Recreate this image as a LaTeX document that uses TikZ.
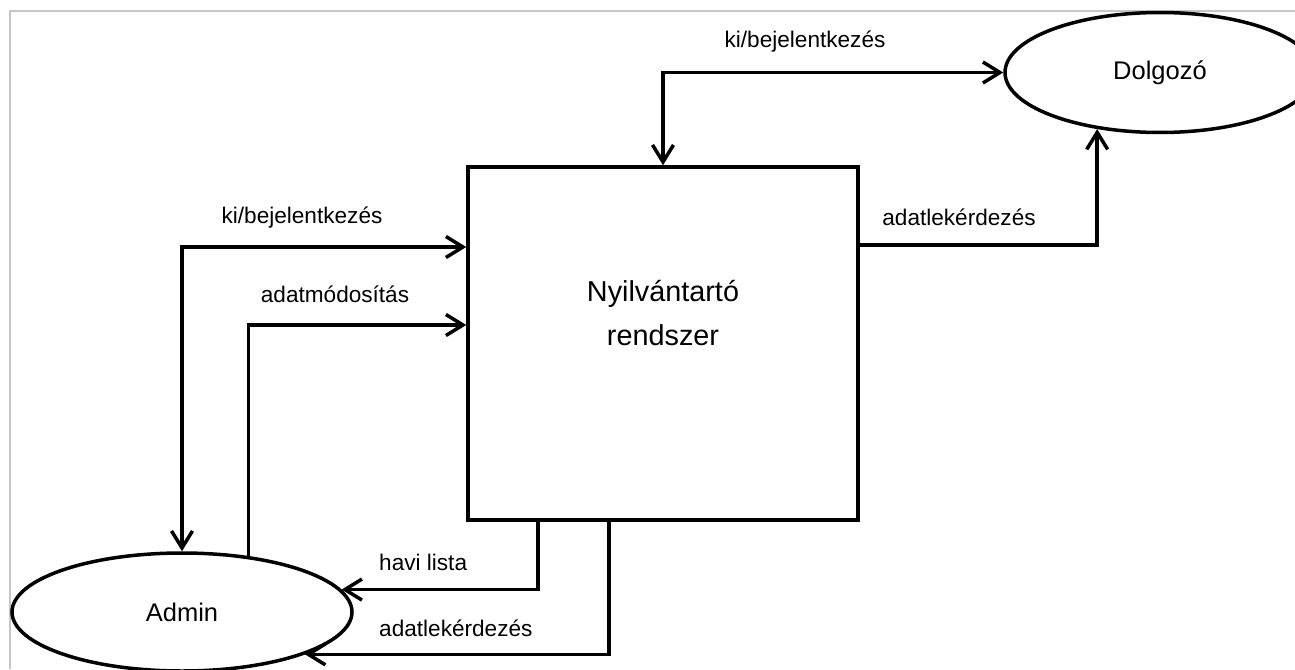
\documentclass[tikz,border=0pt]{standalone}
\usepackage{fontspec}
\setmainfont{Liberation Sans}
\usetikzlibrary{arrows.meta,shapes.geometric}
\tikzset{
  process/.style={draw, line width=3.5pt, minimum width=390pt, minimum height=353pt, inner sep=0pt},
  entity/.style={draw, ellipse, line width=3.5pt, inner sep=0pt, font=\fontsize{25.5}{30}\selectfont},
  flow/.style={line width=3.5pt},
  lbl/.style={inner sep=0pt, font=\fontsize{22.6}{27}\selectfont},
}

\begin{document}
\begin{tikzpicture}[x=1pt, y=-1pt, >={Straight Barb[length=17pt,width=21pt]}]
        \useasboundingbox (0,0) rectangle (1295,669);
        \draw [gray!45, line width=1.2pt] (10,669) -- (10,11) -- (1295,11);

        \node [process] (rendszer) at (663,343.5) {};
        \node [inner sep=0pt, align=center, font=\fontsize{28.8}{44}\selectfont] (rendszercim) at (663,313) {Nyilvántartó\\rendszer};
        \node [entity, minimum width=310pt, minimum height=120pt] (dolgozo) at (1160,72.5) {Dolgozó};
        \node [entity, minimum width=340pt, minimum height=118pt] (admin) at (182,612) {Admin};

        \draw [flow, <->] (rendszer.north) |- (dolgozo.west);
        \draw [flow, ->] (rendszer.east |- 0,245) -| (dolgozo.222);
        \draw [flow, <->] (admin.north) |- (rendszer.west |- 0,247);
        \draw [flow, ->] (admin.40) |- (rendszer.west |- 0,325);
        \draw [flow, ->] (rendszer.south -| 538,0) |- (admin.8);
        \draw [flow, ->] (rendszer.south -| 609,0) |- (admin.-19.5);

        \node [lbl] (fentbe) at (805,42) {ki/bejelentkezés};
        \node [lbl] (jobblek) at (959,217) {adatlekérdezés};
        \node [lbl] (balbe) at (302,218) {ki/bejelentkezés};
        \node [lbl] (modosit) at (335,294) {adatmódosítás};
        \node [lbl, anchor=west] (havi) at (379,562) {havi lista};
        \node [lbl, anchor=west] (lentlek) at (379,628) {adatlekérdezés};
    \end{tikzpicture}
\end{document}
